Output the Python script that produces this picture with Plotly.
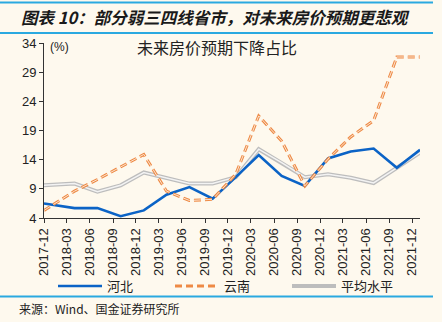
import plotly.graph_objects as go

# Survey dates (first of month) and share of households expecting price declines (%)
dates = ["2017-12-01", "2018-04-01", "2018-07-01", "2018-10-01", "2019-01-01",
         "2019-04-01", "2019-07-01", "2019-10-01", "2020-01-01", "2020-04-01",
         "2020-07-01", "2020-10-01", "2021-01-01", "2021-04-01", "2021-07-01",
         "2021-10-01", "2022-01-01"]
hebei = [6.5, 5.7, 5.7, 4.3, 5.3, 8.0, 9.3, 7.3, 11.0, 14.8, 11.2, 9.5,
         14.2, 15.4, 15.9, 12.6, 15.7]
yunnan = [5.3, 8.6, 10.6, 12.7, 14.9, 8.6, 7.0, 7.2, 11.5, 21.5, 17.2, 9.5,
          14.1, 17.9, 20.7, 31.6, 31.6]
average = [9.6, 9.9, 8.5, 9.6, 11.8, 10.8, 9.9, 9.9, 11.0, 15.8, 13.5, 11.0,
           11.5, 10.9, 10.0, 12.6, 15.2]

tick_vals = ["2017-12-01", "2018-03-01", "2018-06-01", "2018-09-01", "2018-12-01",
             "2019-03-01", "2019-06-01", "2019-09-01", "2019-12-01", "2020-03-01",
             "2020-06-01", "2020-09-01", "2020-12-01", "2021-03-01", "2021-06-01",
             "2021-09-01", "2021-12-01"]
tick_text = [d[:7] for d in tick_vals]
y_ticks = [4, 9, 14, 19, 24, 29, 34]

W, H = 442, 322
L, R, T, B = 44, 420, 43, 218


def px(x):
    return (x - L) / (R - L)


def py(y):
    return (B - y) / (B - T)


BG = "#FEF9EE"
BLUE = "#0B63C6"
ORANGE = "#EE8A45"
GRAY = "#BDBDBD"
ACCENT = "#2AA9E0"

fig = go.Figure()

# average level: double grey line
fig.add_trace(go.Scatter(x=dates, y=average, mode="lines", name="平均水平",
                         legendrank=3,
                         line=dict(color=GRAY, width=4)))
fig.add_trace(go.Scatter(x=dates, y=average, mode="lines", showlegend=False,
                         hoverinfo="skip",
                         line=dict(color="#F3F3F3", width=1.5)))
# Hebei
fig.add_trace(go.Scatter(x=dates, y=hebei, mode="lines", name="河北",
                         legendrank=1,
                         line=dict(color=BLUE, width=2.6)))
# Yunnan: dashed outlined line
fig.add_trace(go.Scatter(x=dates, y=yunnan, mode="lines", name="云南",
                         legendrank=2,
                         line=dict(color=ORANGE, width=3, dash="7px,4px")))
fig.add_trace(go.Scatter(x=dates, y=yunnan, mode="lines", showlegend=False,
                         hoverinfo="skip",
                         line=dict(color="#FCE4D0", width=1, dash="7px,4px")))

axis_font = dict(family="Liberation Sans, Arial, sans-serif", size=13, color="#222222")

fig.update_xaxes(type="date", range=["2017-12-01", "2022-01-01"],
                 tickvals=tick_vals, ticktext=tick_text, tickangle=-90,
                 tickfont=axis_font, ticks="outside", ticklen=4, tickcolor="#333333",
                 showline=True, linecolor="#333333", linewidth=1,
                 showgrid=False, zeroline=False, fixedrange=True)
fig.update_yaxes(range=[4, 34], tickvals=y_ticks, tickfont=axis_font,
                 ticks="outside", ticklen=4, tickcolor="#333333",
                 showline=True, linecolor="#333333", linewidth=1,
                 showgrid=False, zeroline=False, fixedrange=True)

cjk = "Noto Sans CJK SC, sans-serif"
annotations = [
    dict(text="图表 10：部分弱三四线省市，对未来房价预期更悲观",
         x=px(19), y=py(17), xanchor="left", yanchor="middle",
         font=dict(family=cjk, size=16.5, color="#1A1A1A", weight="bold", style="italic")),
    dict(text="未来房价预期下降占比", x=px(217), y=py(47), xanchor="center",
         yanchor="middle", font=dict(family=cjk, size=16, color="#222222")),
    dict(text="(%)", x=px(48), y=py(47), xanchor="left", yanchor="middle",
         font=dict(family="Liberation Sans, Arial, sans-serif", size=12, color="#222222")),
    dict(text="来源：Wind、国金证券研究所", x=px(17), y=py(308), xanchor="left",
         yanchor="middle", font=dict(family=cjk, size=12, color="#222222")),
]
for a in annotations:
    a.update(xref="paper", yref="paper", showarrow=False)

shapes = []
for yy in (2.5, 33, 296.5):
    shapes.append(dict(type="line", xref="paper", yref="paper",
                       x0=px(0), x1=px(433), y0=py(yy), y1=py(yy),
                       line=dict(color=ACCENT, width=2)))

fig.update_layout(
    width=W, height=H,
    margin=dict(l=L, r=W - R, t=T, b=H - B, pad=0),
    paper_bgcolor=BG, plot_bgcolor=BG,
    annotations=annotations, shapes=shapes,
    legend=dict(orientation="h", x=px(53), y=py(286), xanchor="left", yanchor="middle",
                font=dict(family=cjk, size=13, color="#222222"),
                bgcolor="rgba(0,0,0,0)", entrywidth=58, itemwidth=44),
    showlegend=True,
)

fig.write_html("out.html")
